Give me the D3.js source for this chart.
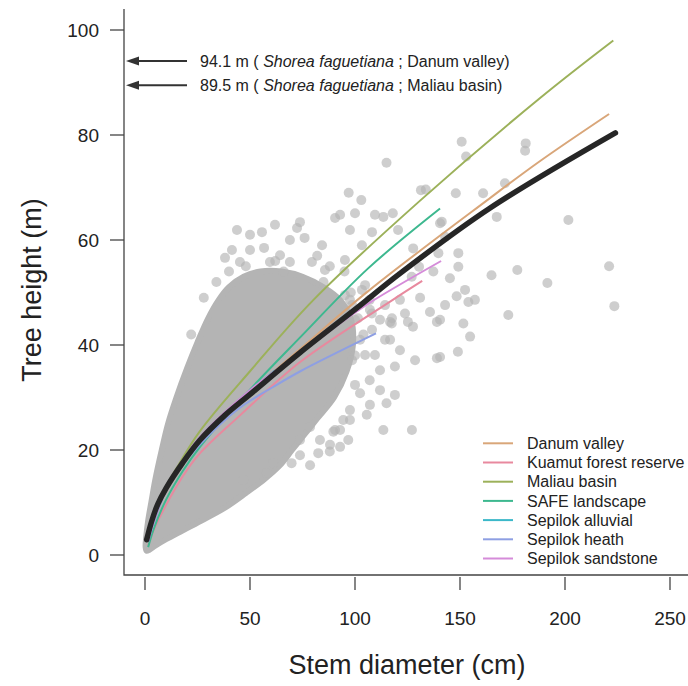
<!DOCTYPE html>
<html><head><meta charset="utf-8">
<script src="https://cdn.jsdelivr.net/npm/d3@7"></script>
<style>body{margin:0;background:#fff}svg{display:block;font-family:"Liberation Sans",Arial,sans-serif}</style>
</head><body><svg id="chart" width="688" height="686"></svg>
<script>
// tree height (m) against stem diameter (cm)
const xTicks=[0,50,100,150,200,250];
const yTicks=[0,20,40,60,80,100];
const sites=["Danum valley","Kuamut forest reserve","Maliau basin","SAFE landscape","Sepilok alluvial","Sepilok heath","Sepilok sandstone"];
const siteColours=["#d9a679","#e8899e","#9cb15a","#3db88f","#3bb8c9","#8e9fe3","#d58bd9"];
// fitted curves per site, [diameter, height]
const danum=[[1.5,2.6],[4,6],[10,12.6],[18,17.5],[26,21.6],[50,31],[75,39.6],[107,50.5],[163,67.6],[188,75],[221,84]];
const kuamut=[[1.5,1.8],[4,4.6],[10,9.5],[18,15],[26,19.3],[45,26.5],[74,36.8],[118,48.6],[132,52.2]];
const maliau=[[1.5,3],[4,6.5],[8.7,12],[15,16.5],[26,23.5],[50,35],[80,48.5],[131,67.5],[188,87],[223,98]];
const safe=[[1.5,1.5],[4,4.8],[10,10.5],[18,16],[26,20.5],[50,31.5],[74,41.5],[106,54.5],[140.5,66]];
const alluvial=[[1.5,2.8],[4,6.2],[10,13],[18,17.9],[26,22.3],[45,29.6],[62,35.2]];
const heath=[[1.5,2.5],[4,5.9],[10,12.3],[18,17.2],[26,21],[45,28],[61,32],[74,35],[110,42.2]];
const sandstone=[[1.5,2.7],[4,6.2],[10,12.9],[18,18],[26,22.4],[50,31.4],[75,38.8],[90,43.3],[106,47.8],[141,56]];
const overall=[[0.8,2.9],[3,6.2],[6,9.6],[10,12.7],[18,17.6],[26,21.8],[38,26.6],[50,30.6],[74,38.6],[102,47.4],[121,53.5],[164,66],[224,80.4]];
const siteCurves=[danum,kuamut,maliau,safe,alluvial,heath,sandstone];
// outline of the solid core of the scatter
const cloud=[[0.3,1.5],[0.6,3.5],[1.5,6.5],[3,10],[5,14.5],[8,20],[11,25],[15,30],[20,35.5],[25,40.5],[30,45],[35,48.5],[40,51],[47,53],[55,54],[65,54],[75,53],[85,51],[93,48.5],[98,45],[99,40],[96,35],[90,30],[82,26],[76,23],[70,20],[64,17],[57,14.5],[48,11.8],[38,9],[28,6.8],[18,4.7],[10,3],[5,1.8],[2,1],[0.8,0.8]];
// single trees outside the core
const trees=[[150.8,78.7],[152.9,75.9],[115,74.7],[181.3,78.4],[181,77],[131.4,69.5],[133.7,69.6],[148,68.9],[161,68.9],[171.4,70.8],[167.5,64.4],[201.6,63.8],[141.3,63.5],[221,55],[223.5,47.4],[191.6,51.8],[177.3,54.3],[165,53.3],[173,45.7],[149.2,57.5],[149.2,54.9],[145.2,52.7],[148.4,49.3],[154,48.2],[151.6,44.1],[154.8,41.6],[140.5,44.8],[123.8,46],[127.6,43.5],[116.7,44.4],[140.5,63.2],[118,65.1],[113.5,64.4],[120.5,61.9],[130.5,54.9],[127,53],[137.3,54],[127.7,58.4],[139.7,57.5],[142.9,60.6],
 [97,69],[103,67.6],[55.7,61.5],[56.7,58.5],[72.4,62.3],[76,60.4],[82,57],[92.9,64.8],[100,65.1],[109.5,64.8],
 [113.5,23.8],[115,28.9],[105.6,26.7],[96.8,21.9],[92.9,20.6],[88,19.7],[82.5,19.4],[89.7,23.5],[78.6,24.4],[73.8,21.9],[69.8,17.5],[61,17.5],[58,15.6],[46.8,14.3],[117.5,44.1],[119,35.9],[111.9,35.2],[107,33.3],[102.4,30.8],[94.4,25.7],
 [139,37.5],[149,38.7],[100,38],[104,42],[108,46],[98,50],[95,54],[88,55],[85,52],[62,56],[48,55],[40,54],[34,52],[28,49],[22,42],[66,54],
 [38.1,56.6],[41.4,58.1],[45.2,55.8],[50,58.1],[59.5,55.8],[64.3,57.1],[69,55.8],[79.5,55.8],[85.7,54.3],[95.2,56.2],[103.3,59],[108.1,61.5],
 [97.6,48.6],[100,44.8],[102.4,41],[98.6,37.1],[107,48.6],[111.9,44.8],[104.8,51.4],[116.7,41],[109.5,38.1],
 [73.8,19],[83.3,21.9],[90.5,23.8],[97.6,27.6],[78.6,17.1],
 [95.2,49.5],[98.6,47.6],[101.4,45.1],[96.7,43.8],[103.3,50.5],[107.1,46.7],[114.3,47.6],[117.6,45.1],[121.4,48.6],[125.2,44.4],[131,49],[135.7,46.3],[139,44.4],[142.9,47.6],[152.4,50.5],[157.1,48.6],
 [121.4,39],[128.6,37.1],[140.5,37.7],[111.9,31.4],[119,30.5],[127.1,23.8],[100,32.4],[107.1,28.6],[97.6,25.7],[92.9,23.8],[88.1,21],[104.8,38.1],[114.3,41],[108.1,42.9],
 [43.8,61.9],[50,61],[61.9,62.9],[69,60],[73.8,63.4],[84.3,59],[90.5,64.2],[97.6,61.9]];
const records=[{height:94.1,species:"Shorea faguetiana",site:"Danum valley"},{height:89.5,species:"Shorea faguetiana",site:"Maliau basin"}];

const svg=d3.select("#chart");
const x=d3.scaleLinear().domain([-10,260]).range([124,691]);
const y=d3.scaleLinear().domain([-4,104]).range([576,9]);
const grey="#b4b4b4";

svg.append("clipPath").attr("id","plot").append("rect").attr("x",124).attr("y",9).attr("width",567).attr("height",567);
const plot=svg.append("g").attr("clip-path","url(#plot)");

plot.append("path").datum(cloud)
 .attr("d",d3.line().x(d=>x(d[0])).y(d=>y(d[1])).curve(d3.curveCatmullRomClosed))
 .attr("fill",grey).attr("stroke",grey).attr("stroke-width",6).attr("stroke-linejoin","round");
plot.append("g").selectAll("circle").data(trees).join("circle")
 .attr("cx",d=>x(d[0])).attr("cy",d=>y(d[1])).attr("r",5)
 .attr("fill",grey).attr("fill-opacity",0.65);

const line=d3.line().x(d=>x(d[0])).y(d=>y(d[1])).curve(d3.curveCatmullRom.alpha(0.5));
plot.append("g").selectAll("path").data(siteCurves).join("path")
 .attr("d",line).attr("fill","none").attr("stroke",(d,i)=>siteColours[i]).attr("stroke-width",2);
plot.append("path").datum(overall).attr("d",line).attr("fill","none")
 .attr("stroke","#262626").attr("stroke-width",5.5).attr("stroke-linecap","round");

// frame (L shaped) and axes
svg.append("path").attr("d","M124,9V575H688").attr("fill","none").attr("stroke","#444").attr("stroke-width",1.3);
const yAxis=svg.append("g").selectAll("g").data(yTicks).join("g").attr("transform",d=>`translate(0,${y(d)})`);
yAxis.append("line").attr("x1",110).attr("x2",124).attr("stroke","#444").attr("stroke-width",1.3);
yAxis.append("text").attr("x",99).attr("dy","0.35em").attr("text-anchor","end").attr("font-size",19).attr("fill","#222").text(d=>d);
const xAxis=svg.append("g").selectAll("g").data(xTicks).join("g").attr("transform",d=>`translate(${x(d)},0)`);
xAxis.append("line").attr("y1",577).attr("y2",590).attr("stroke","#444").attr("stroke-width",1.3);
xAxis.append("text").attr("y",625).attr("text-anchor","middle").attr("font-size",19).attr("fill","#222").text(d=>d);

svg.append("text").attr("x",407).attr("y",674).attr("text-anchor","middle").attr("font-size",27).attr("fill","#222").text("Stem diameter (cm)");
svg.append("text").attr("transform","translate(41,290) rotate(-90)").attr("text-anchor","middle").attr("font-size",27).attr("fill","#222").text("Tree height (m)");

// tallest recorded trees
const note=svg.append("g").selectAll("g").data(records).join("g").attr("transform",d=>`translate(0,${y(d.height)})`);
note.append("line").attr("x1",137).attr("x2",187).attr("stroke","#333").attr("stroke-width",2);
note.append("path").attr("d","M126,0L139,-4.5L139,4.5Z").attr("fill","#333");
const label=note.append("text").attr("x",200).attr("dy","0.35em").attr("font-size",16).attr("fill","#222");
label.append("tspan").text(d=>d.height+" m ( ");
label.append("tspan").attr("font-style","italic").text(d=>d.species);
label.append("tspan").text(d=>" ; "+d.site+")");

// legend
const legend=svg.append("g").selectAll("g").data(sites).join("g").attr("transform",(d,i)=>`translate(0,${443.3+i*19.2})`);
legend.append("line").attr("x1",483).attr("x2",513).attr("stroke",(d,i)=>siteColours[i]).attr("stroke-width",2);
legend.append("text").attr("x",527).attr("dy","0.35em").attr("font-size",16).attr("fill","#222").text(d=>d);
</script></body></html>
